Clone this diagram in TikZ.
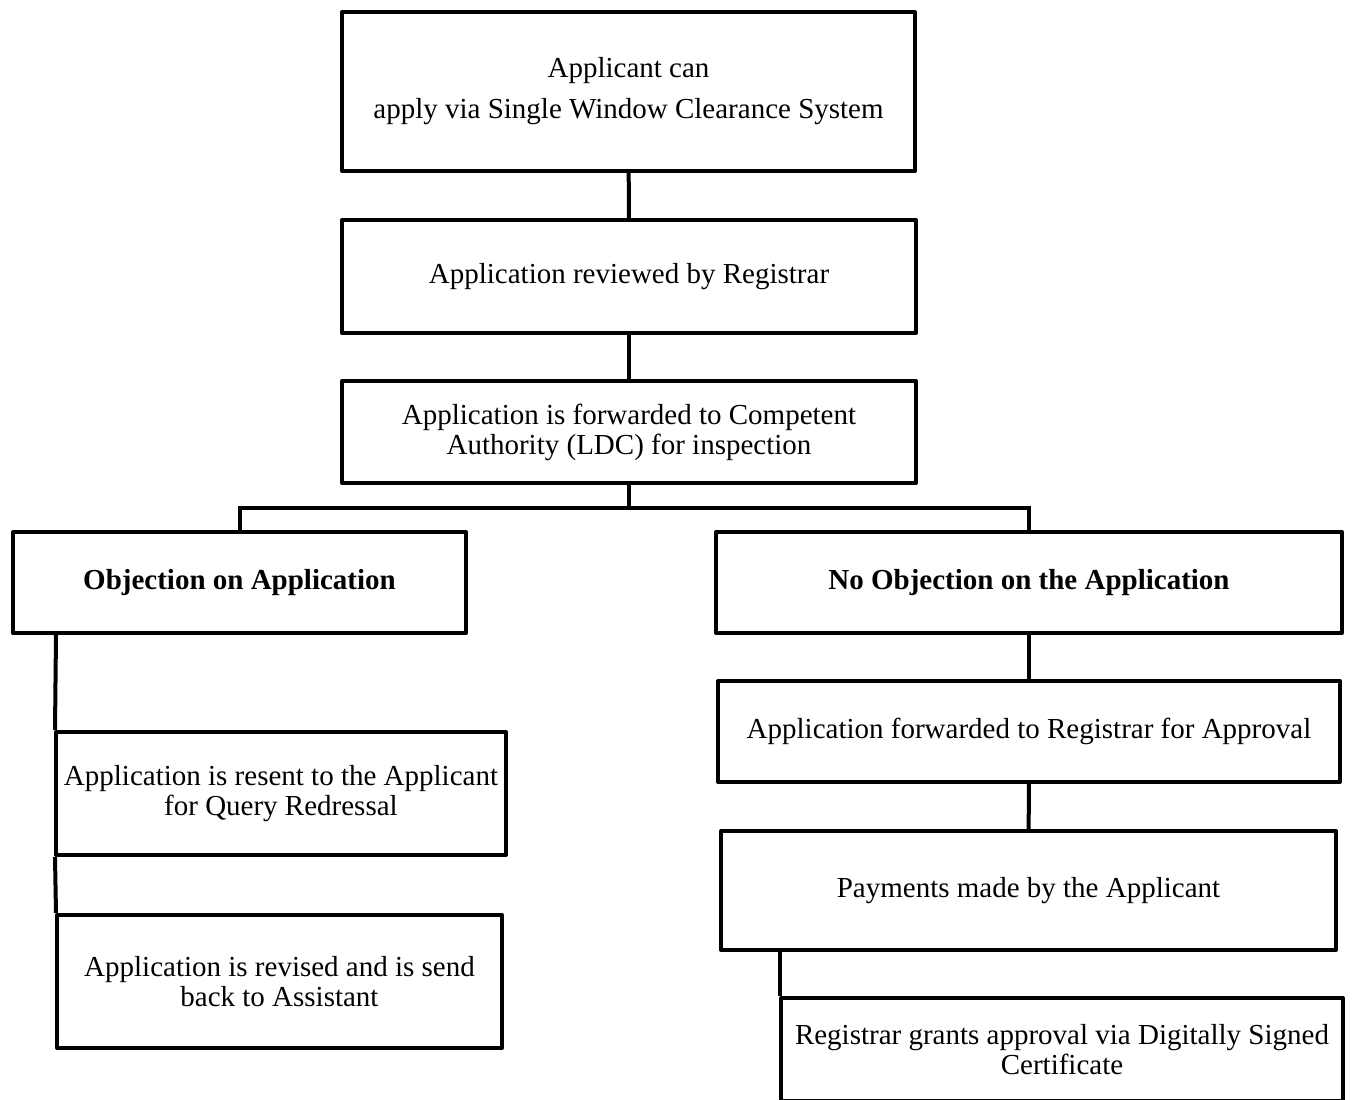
\documentclass[tikz,border=0pt]{standalone}
\usepackage{fontspec}
\setmainfont{Liberation Serif}
\usetikzlibrary{positioning,calc}

\begin{document}
\begin{tikzpicture}[
      x=1pt, y=-1pt,
      every node/.style={font=\fontsize{29}{30}\selectfont},
      box/.style={
        draw, line width=4pt, line join=round, align=center, inner sep=0pt
      },
      link/.style={line width=4pt}
    ]
    \useasboundingbox (0,0) rectangle (1353,1100);
    \clip (0,0) rectangle (1353,1100);
    % NODES
    \node[box, minimum width=573pt, minimum height=159pt] (apply) at (628.5,91.5) {Applicant can\\[11pt]apply via Single Window Clearance System};
    \node[box, minimum width=574pt, minimum height=113pt] (review) at (629,276.5) {Application reviewed by Registrar};
    \node[box, minimum width=574pt, minimum height=102pt] (forward) at (629,432) {Application is forwarded to Competent\\Authority (LDC) for inspection};

    \node[box, minimum width=453pt, minimum height=101pt] (objection) at (239.5,582.5) {\textbf{Objection on Application}};
    \node[box, minimum width=450pt, minimum height=123pt] (resent) at (281,793.5) {Application is resent to the Applicant\\for Query Redressal};
    \node[box, minimum width=445pt, minimum height=133pt] (revised) at (279.5,981.5) {Application is revised and is send\\back to Assistant};

    \node[box, minimum width=626pt, minimum height=101pt] (noobj) at (1029,582.5) {\textbf{No Objection on the Application}};
    \node[box, minimum width=622pt, minimum height=101pt] (toreg) at (1029,731.5) {Application forwarded to Registrar for Approval};
    \node[box, minimum width=615pt, minimum height=119pt] (payment) at (1028.5,890.5) {Payments made by the Applicant};
    \node[box, minimum width=562pt, minimum height=103pt] (grant) at (1062,1049.5) {Registrar grants approval via Digitally Signed\\Certificate};

    \coordinate (split) at (629,508);

    % LINES
    \draw[link] (apply) -- (review);
    \draw[link] (review) -- (forward);
    \draw[link] (forward) -- (split);
    \draw[link] (objection.north) |- (split) -| (noobj.north);
    \draw[link] ([xshift=45pt]objection.south west) -- ([xshift=1pt]resent.north west);
    \draw[link] ([xshift=1pt]resent.south west) -- ([xshift=1pt]revised.north west);
    \draw[link] (noobj) -- (toreg);
    \draw[link] (toreg) -- (payment);
    \draw[link] ([xshift=61pt]payment.south west) -- ([xshift=1pt]grant.north west);
  \end{tikzpicture}
\end{document}
